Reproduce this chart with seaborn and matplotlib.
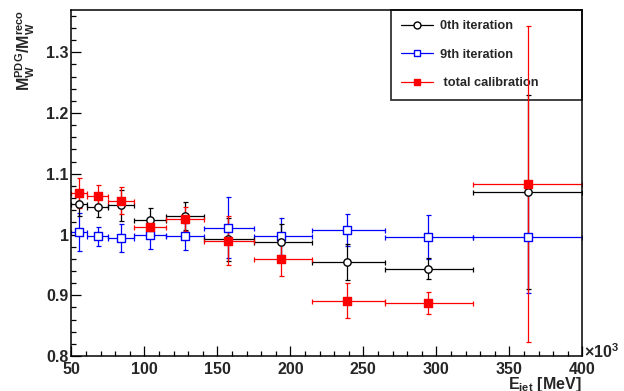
import numpy as np
import pandas as pd
import matplotlib
matplotlib.use("Agg")
import matplotlib.pyplot as plt
import seaborn as sns
from matplotlib.lines import Line2D
from matplotlib.ticker import MultipleLocator, FixedLocator, FuncFormatter

# ---------------- data ----------------
e_center = [55.3, 68.2, 84.0, 103.9, 127.9, 157.2, 193.8, 238.8, 294.5, 362.6]
bin_low = [50, 61, 75, 93, 115, 141, 175, 215, 265, 325]
bin_high = [61, 75, 93, 115, 141, 175, 215, 265, 325, 400]

iter0 = [1.051, 1.046, 1.048, 1.024, 1.030, 0.992, 0.988, 0.955, 0.944, 1.070]
iter0_err = [0.020, 0.017, 0.025, 0.020, 0.023, 0.036, 0.029, 0.030, 0.018, 0.160]

iter9 = [1.004, 0.997, 0.994, 1.000, 0.997, 1.011, 0.997, 1.007, 0.996, 0.996]
iter9_err = [0.031, 0.016, 0.023, 0.024, 0.022, 0.050, 0.030, 0.026, 0.036, 0.092]

total = [1.068, 1.063, 1.056, 1.012, 1.025, 0.990, 0.959, 0.891, 0.887, 1.083]
total_err = [0.025, 0.019, 0.022, 0.016, 0.020, 0.040, 0.028, 0.029, 0.018, 0.260]

series_names = ["0th iteration", "9th iteration", " total calibration"]
x_ticks = [50, 100, 150, 200, 250, 300, 350, 400]
y_ticks = [0.8, 0.9, 1.0, 1.1, 1.2, 1.3]

# ---------------- style ----------------
sns.set_theme(style="ticks")
plt.rcParams["font.family"] = ["Liberation Sans", "DejaVu Sans"]
plt.rcParams["font.weight"] = "bold"
plt.rcParams["mathtext.fontset"] = "custom"
plt.rcParams["mathtext.rm"] = "Liberation Sans:bold"
plt.rcParams["mathtext.it"] = "Liberation Sans:bold"
plt.rcParams["mathtext.bf"] = "Liberation Sans:bold"

fig = plt.figure(figsize=(6.24, 3.91), dpi=100)
ax = fig.add_axes([0.1143, 0.0895, 0.8189, 0.8849])

x = np.array(e_center)
xerr = [x - np.array(bin_low), np.array(bin_high) - x]

df = pd.DataFrame({
    "E": e_center * 3,
    "ratio": iter0 + iter9 + total,
    "series": [series_names[0]] * 10 + [series_names[1]] * 10 + [series_names[2]] * 10,
})

specs = [
    (iter9, iter9_err, "#0000ff", "s", "white", series_names[1]),
    (iter0, iter0_err, "black", "o", "white", series_names[0]),
    (total, total_err, "#ff0000", "s", "#ff0000", series_names[2]),
]

for vals, errs, col, mk, fc, name in specs:
    ax.errorbar(x, vals, xerr=xerr, yerr=errs, fmt="none", ecolor=col,
                elinewidth=0.9, capsize=1.8, capthick=0.9, zorder=2)

for vals, errs, col, mk, fc, name in specs:
    sub = df[df["series"] == name]
    sns.scatterplot(data=sub, x="E", y="ratio", ax=ax, marker=mk, s=28,
                    facecolor=fc, edgecolor=col, linewidth=1.0, zorder=3,
                    legend=False)

ax.set_xlim(50, 400)
ax.set_ylim(0.8, 1.3696)
ax.set_xlabel("")
ax.set_ylabel("")

ax.xaxis.set_major_locator(FixedLocator(x_ticks))
ax.xaxis.set_minor_locator(MultipleLocator(10))
ax.yaxis.set_major_locator(FixedLocator(y_ticks))
ax.yaxis.set_minor_locator(MultipleLocator(0.02))
ax.yaxis.set_major_formatter(FuncFormatter(lambda v, p: "%g" % round(v, 3)))
ax.xaxis.set_major_formatter(FuncFormatter(lambda v, p: "%d" % v))

ax.tick_params(which="both", direction="in", top=False, right=False, width=0.9,
               color="black")
ax.tick_params(which="major", length=7.2)
ax.tick_params(which="minor", length=3.6)
ax.tick_params(axis="x", which="major", pad=4, labelsize=11.5)
ax.tick_params(axis="y", which="major", pad=2, labelsize=11.5)
for lab in ax.get_xticklabels() + ax.get_yticklabels():
    lab.set_fontweight("bold")
for sp in ax.spines.values():
    sp.set_visible(True)
    sp.set_linewidth(1.1)
    sp.set_color("black")

handles = [
    Line2D([0], [0], color="black", lw=0.9, marker="o", ms=5, mfc="white", mec="black"),
    Line2D([0], [0], color="#0000ff", lw=0.9, marker="s", ms=5, mfc="white", mec="#0000ff"),
    Line2D([0], [0], color="#ff0000", lw=0.9, marker="s", ms=5, mfc="#ff0000", mec="#ff0000"),
]
leg = ax.legend(handles, series_names, loc="upper left",
                bbox_to_anchor=(0.625, 1.0, 0.375, 0.0), mode="expand",
                borderaxespad=0, frameon=True, fancybox=False,
                prop={"family": "Liberation Sans", "weight": "bold", "size": 9.2},
                handlelength=2.5, handletextpad=0.55, labelspacing=1.3,
                borderpad=0.8)
leg.get_frame().set_edgecolor("black")
leg.get_frame().set_facecolor("none")
leg.get_frame().set_linewidth(1.3)
leg.set_zorder(1)

fig.text(25 / 624, 1 - 10 / 391, r"$\mathbf{M_{W}^{PDG}/M_{W}^{reco}}$",
         rotation=90, ha="center", va="top", fontsize=11.5)
fig.text(582 / 624, 1 - 375.5 / 391, r"E$_{\mathbf{jet}}$ [MeV]",
         ha="right", va="top", fontsize=11.5, fontweight="bold")
fig.text(584 / 624, 1 - 352 / 391, "×10$^{3}$", ha="left", va="center",
         fontsize=11.5, fontweight="bold")

fig.savefig("out.png", dpi=100)
